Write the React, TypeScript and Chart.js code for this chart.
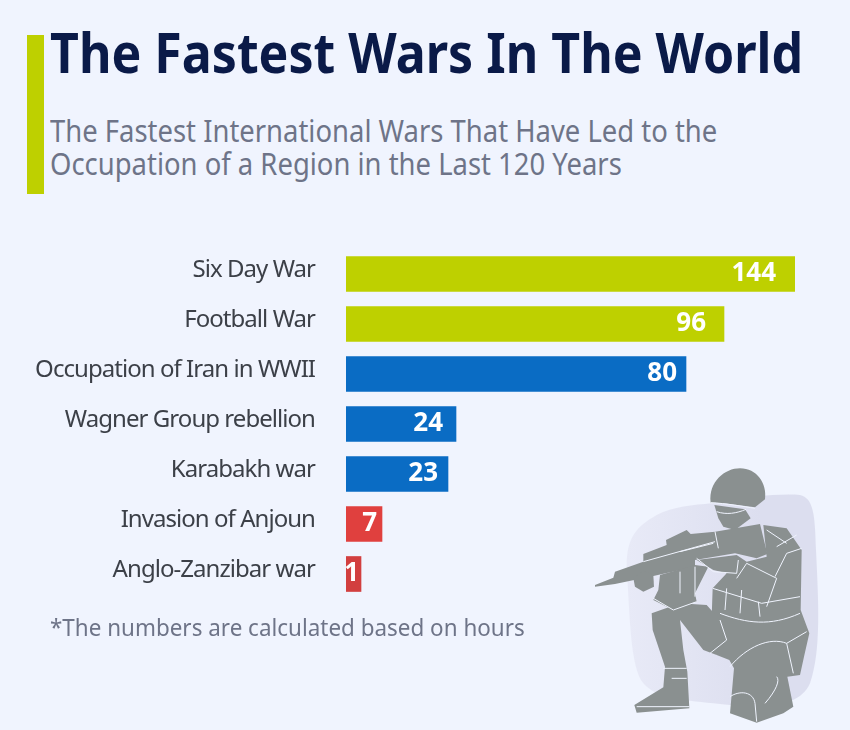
import React, { useEffect, useRef } from "react";
import { Chart, registerables, LinearScale } from "chart.js";

const categories = ["Six Day War", "Football War", "Occupation of Iran in WWII", "Wagner Group rebellion", "Karabakh war", "Invasion of Anjoun", "Anglo-Zanzibar war"];
const hours = [144, 96, 80, 24, 23, 7, 1];
const barColors = ["#bed000", "#bed000", "#0a6cc4", "#0a6cc4", "#0a6cc4", "#e0403e", "#d23f3f"];
const labelInsets = [19, 18, 9, 13, 10, 5, 2];

// The reference's bars are not proportional to their printed values, so the hidden axis is piecewise.
const axisStops = [0, 1, 7, 23, 24, 80, 96, 144];
const axisLengths = [0, 15, 36, 102, 110, 340, 378, 449];

class PiecewiseScale extends LinearScale {
  static id = "piecewise";
  static defaults = LinearScale.defaults;
  getPixelForValue(v: number) {
    const last = axisStops.length - 1;
    const c = Math.max(axisStops[0], Math.min(axisStops[last], v));
    let i = 0;
    while (i < last - 1 && c > axisStops[i + 1]) i++;
    const t = (c - axisStops[i]) / (axisStops[i + 1] - axisStops[i]);
    const len = axisLengths[i] + t * (axisLengths[i + 1] - axisLengths[i]);
    return (this as any).left + (len / axisLengths[last]) * (this as any).width;
  }
}
Chart.register(...registerables, PiecewiseScale as any);

const tighten = {
  id: "tighten",
  beforeDraw(chart: any) {
    chart.ctx.letterSpacing = "-0.95px";
  },
};
const valueLabels = {
  id: "valueLabels",
  afterDatasetsDraw(chart: any) {
    const { ctx } = chart;
    const meta = chart.getDatasetMeta(0);
    ctx.save();
    ctx.letterSpacing = "0px";
    ctx.font = "700 26px 'Noto Sans'";
    ctx.fillStyle = "#ffffff";
    ctx.textAlign = "right";
    ctx.textBaseline = "middle";
    meta.data.forEach((bar: any, i: number) => {
      ctx.fillText(String(hours[i]), bar.x - labelInsets[i], bar.y + 0);
    });
    ctx.restore();
  },
};

const textBase: React.CSSProperties = { position: "absolute", fontFamily: "'Noto Sans'", whiteSpace: "nowrap", transformOrigin: "left top", margin: 0 };

export default function App() {
  const ref = useRef<HTMLCanvasElement>(null);
  useEffect(() => {
    const chart = new Chart(ref.current!, {
      type: "bar",
      data: { labels: categories, datasets: [{ data: hours, backgroundColor: barColors, barThickness: 35 }] },
      plugins: [tighten, valueLabels],
      options: {
        indexAxis: "y",
        animation: false,
        responsive: false,
        layout: { padding: { left: 0, top: 249, right: 55, bottom: 131 } },
        plugins: { legend: { display: false }, tooltip: { enabled: false } },
        scales: {
          x: { type: "piecewise", min: 0, max: 144, display: false } as any,
          y: {
            grid: { display: false, drawTicks: false },
            border: { display: false },
            afterFit: (s: any) => { s.width = 346; },
            ticks: { color: "#3c4048", padding: 31, labelOffset: -4, autoSkip: false, font: { family: "'Noto Sans'", size: 24 } },
          },
        },
      },
    });
    return () => chart.destroy();
  }, []);
  return (
    <div style={{ position: "absolute", left: 0, top: 0, width: 850, height: 730, background: "#f0f4fe", overflow: "hidden" }}>
      <div style={{ position: "absolute", left: 27, top: 35, width: 17, height: 159, background: "#bed000" }} />
      <div style={{ ...textBase, left: 50, top: 14, fontSize: 55, fontWeight: 700, lineHeight: "75px", color: "#0a1a48", transform: "scaleX(0.91)" }}>The Fastest Wars In The World</div>
      <div style={{ ...textBase, left: 50, top: 114, fontSize: 31, lineHeight: "33px", color: "#6e7488", transform: "scaleX(0.885)" }}>
        The Fastest International Wars That Have Led to the<br />Occupation of a Region in the Last 120 Years
      </div>
      <canvas ref={ref} width={850} height={730} style={{ position: "absolute", left: 0, top: 0 }} />
      <div style={{ ...textBase, left: 50, top: 610, fontSize: 24, lineHeight: "33px", color: "#6e7488", transform: "scaleX(0.935)" }}>*The numbers are calculated based on hours</div>
      <svg viewBox="0 0 810 840" style={{ position: "absolute", left: 580, top: 450, width: 270, height: 280 }}>
        <defs>
          <linearGradient id="blob" x1="0" x2="1" y1="0" y2="0">
            <stop offset="0" stopColor="#e8eaf7" />
            <stop offset="0.7" stopColor="#dcdeef" />
          </linearGradient>
        </defs>
        <path d="M395,160 C500,140 600,130 660,135 C700,145 705,190 708,300 C715,450 725,600 690,700 C660,770 560,780 400,760 C300,750 230,745 190,700 C150,650 150,500 140,350 C140,260 170,230 230,195 C280,170 340,165 395,160Z" fill="url(#blob)" />
        <g fill="#8a9090">
          <path d="M392,158 C385,95 435,55 480,55 C530,55 562,100 555,148 L525,172 C480,165 430,158 392,158Z" />
          <path d="M403,165 L495,178 L512,205 L465,240 L430,230 L415,205Z" />
          <path d="M45,405 L100,383 L105,365 L190,335 L190,312 L260,285 L258,270 L320,240 L332,252 L405,245 L540,222 L562,312 L530,325 L465,310 L345,330 L345,350 L220,378 L105,402 L45,410Z" />
          <path d="M160,385 L190,362 L220,375 L222,410 L190,425 L165,410Z" />
          <path d="M550,225 L620,235 L665,300 L662,480 L688,550 L672,620 L660,675 L622,680 L640,770 L610,790 L530,818 L450,790 L462,655 L448,630 L410,615 L395,500 L398,415 L440,370 L400,360 L350,330 L470,315 L500,335 L560,320Z" />
          <path d="M240,375 L345,345 L385,350 L345,430 L350,455 L280,480 L220,450 L235,420Z" />
          <path d="M215,490 L300,460 L380,465 L420,510 L428,560 L410,615 L370,600 L300,510 L310,600 L322,665 L328,775 L170,788 L163,765 L250,712 L255,650 L218,540Z" />
        </g>
        <g fill="none" stroke="#f0f4fe" strokeWidth="3">
          <path d="M392,158 C440,160 490,170 525,175" />
          <path d="M410,185 C440,195 470,190 498,178" />
          <path d="M190,335 L405,275 M405,245 L415,295 M300,305 L400,280" />
          <path d="M350,325 L400,365 L470,370 L475,330" />
          <path d="M398,415 L545,460 L660,440 M440,415 L435,480 M485,420 L480,490 M535,455 L540,500 M420,490 C500,520 570,530 660,490" />
          <path d="M585,380 L620,310 L665,295 M590,290 L650,255 M560,240 L620,280" />
          <path d="M470,385 L500,340 L590,385 L560,470" />
          <path d="M220,445 L280,480 L350,455 M300,365 L300,430 M345,350 L345,440" />
          <path d="M420,510 L440,570 L390,610 M450,650 C500,590 570,560 620,580 L640,670" />
          <path d="M250,655 L320,655 M275,685 L320,685 M170,770 L328,770" />
          <path d="M450,740 C480,720 520,725 525,760 L530,815 M555,760 C590,720 600,690 590,680" />
          <path d="M620,580 L680,545" />
        </g>
      </svg>
    </div>
  );
}
